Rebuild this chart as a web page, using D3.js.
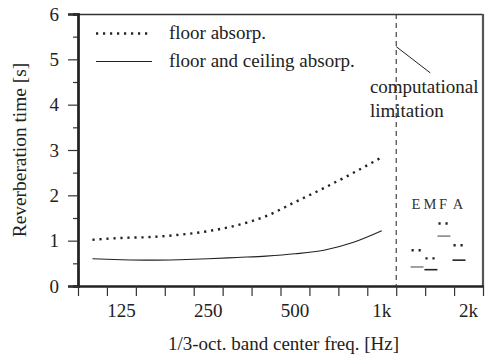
<!DOCTYPE html>
<html>
<head>
<meta charset="utf-8">
<script src="https://cdn.jsdelivr.net/npm/d3@7"></script>
<style>
  body { margin: 0; background: #fff; }
</style>
</head>
<body>
<svg id="chart" width="487" height="355"></svg>
<script>
// 1/3-octave bands, 100 Hz .. 2 kHz (index = band number)
const bands = ["100","125","160","200","250","315","400","500","630","800","1k","1.25k","1.6k","2k"];
const bandLabels = {1: "125", 4: "250", 7: "500", 10: "1k", 13: "2k"};

// reverberation time [s], bands 100 Hz .. 1 kHz
const floorAbs = [1.02, 1.06, 1.08, 1.13, 1.21, 1.34, 1.54, 1.85, 2.16, 2.49, 2.84];
const floorCeilAbs = [0.60, 0.58, 0.57, 0.58, 0.60, 0.63, 0.66, 0.71, 0.79, 0.96, 1.22];

// measured values E, M, F, A (position given in band units)
const measNames = ["E", "M", "F", "A"];
const measPos = [11.72, 12.2, 12.65, 13.17];
const measFloor = [0.79, 0.61, 1.38, 0.90];
const measFloorCeil = [0.42, 0.36, 1.10, 0.57];
const measGrey = [true, false, true, false];

const limitBand = 11; // computational limitation edge

const FONT = "Liberation Serif";
const svg = d3.select("#chart");
const m = {left: 78, right: 483, top: 14, bottom: 286};
const fs = 19;

const x = d3.scaleLinear().domain([0, bands.length]).range([m.left, m.right]);
const y = d3.scaleLinear().domain([0, 6]).range([m.bottom, m.top]);

const txt = (sel, size) => sel.attr("font-family", FONT).attr("font-size", size || fs).attr("fill", "#222");

// frame top/right
svg.append("line").attr("x1", m.left).attr("x2", m.right).attr("y1", m.top + 0.5).attr("y2", m.top + 0.5)
    .attr("stroke", "#333").attr("stroke-width", 1.7);
svg.append("line").attr("x1", m.right).attr("x2", m.right).attr("y1", m.top).attr("y2", m.bottom)
    .attr("stroke", "#555").attr("stroke-width", 2.2);

// y axis
const gy = svg.append("g").attr("transform", `translate(${m.left},0)`);
gy.call(d3.axisLeft(y).tickValues(d3.range(0.5, 6, 1)).tickSize(5).tickFormat(""));
gy.call(g => g.append("g").call(d3.axisLeft(y).tickValues(d3.range(0, 7)).tickSize(10).tickPadding(9).tickFormat(d3.format("d"))));
gy.selectAll("g").attr("font-family", FONT);
gy.selectAll("path.domain").attr("stroke", "#222").attr("stroke-width", 2.3);
gy.selectAll(".tick line").attr("stroke", "#333").attr("stroke-width", 1.2);
gy.selectAll("text").call(txt);

// x axis
const gx = svg.append("g").attr("transform", `translate(0,${m.bottom})`);
gx.call(d3.axisBottom(x).tickValues(d3.range(0, bands.length + 1)).tickSize(10).tickSizeOuter(0).tickFormat(""));
gx.select("path.domain").attr("stroke", "#222").attr("stroke-width", 2.7);
gx.selectAll(".tick line").attr("stroke", "#333").attr("stroke-width", 1.2);

svg.append("g").selectAll("text")
    .data(Object.entries(bandLabels)).enter()
    .append("text")
    .attr("x", d => x(+d[0] + 0.5))
    .attr("y", m.bottom + 31)
    .attr("text-anchor", "middle")
    .call(txt)
    .text(d => d[1]);

// axis titles
svg.append("text").attr("x", (m.left + m.right) / 2 + 3).attr("y", 350)
    .attr("text-anchor", "middle").call(txt)
    .text("1/3-oct. band center freq. [Hz]");
svg.append("text").attr("transform", `translate(26,${(m.top + m.bottom) / 2}) rotate(-90)`)
    .attr("text-anchor", "middle").call(txt, fs + 0.4)
    .text("Reverberation time [s]");

// computational limitation
svg.append("line").attr("x1", x(limitBand)).attr("x2", x(limitBand)).attr("y1", m.top).attr("y2", m.bottom)
    .attr("stroke", "#333").attr("stroke-width", 1.1).attr("stroke-dasharray", "5,4");
svg.append("line").attr("x1", x(limitBand)).attr("y1", y(5.28)).attr("x2", x(12.18)).attr("y2", y(4.70))
    .attr("stroke", "#222").attr("stroke-width", 1);
svg.append("text").attr("x", x(10.09)).attr("y", y(4.26)).call(txt).text("computational");
svg.append("text").attr("x", x(10.09)).attr("y", y(3.73)).call(txt).text("limitation");

// curves
const line = d3.line().x((d, i) => x(i + 0.5)).y(d => y(d)).curve(d3.curveMonotoneX);
svg.append("path").datum(floorAbs).attr("d", line)
    .attr("fill", "none").attr("stroke", "#222").attr("stroke-width", 2.4).attr("stroke-dasharray", "2.2,4.8");
svg.append("path").datum(floorCeilAbs).attr("d", line)
    .attr("fill", "none").attr("stroke", "#222").attr("stroke-width", 1.1);

// legend
const legend = [
    {label: "floor absorp.", dash: "2.2,4.8", w: 2.4},
    {label: "floor and ceiling absorp.", dash: null, w: 1.1}
];
const lg = svg.append("g").selectAll("g").data(legend).enter().append("g")
    .attr("transform", (d, i) => `translate(0,${33.5 + i * 28})`);
lg.append("line").attr("x1", 96).attr("x2", 152)
    .attr("stroke", "#222").attr("stroke-width", d => d.w).attr("stroke-dasharray", d => d.dash);
lg.append("text").attr("x", 169).attr("y", 5).call(txt).text(d => d.label);

// measured E M F A
const mg = svg.append("g").selectAll("g").data(measNames).enter().append("g");
mg.append("text")
    .attr("x", (d, i) => x(measPos[i]) - 1)
    .attr("y", 209)
    .attr("text-anchor", "middle")
    .call(txt, 14.5)
    .attr("fill", "#333")
    .text(d => d);
mg.append("line")
    .attr("x1", (d, i) => x(measPos[i]) - 5.5).attr("x2", (d, i) => x(measPos[i]) + 6)
    .attr("y1", (d, i) => y(measFloor[i])).attr("y2", (d, i) => y(measFloor[i]))
    .attr("stroke", "#222").attr("stroke-width", 2.4).attr("stroke-dasharray", "2.2,4.8");
mg.append("line")
    .attr("x1", (d, i) => x(measPos[i]) - 6.5).attr("x2", (d, i) => x(measPos[i]) + 6.5)
    .attr("y1", (d, i) => y(measFloorCeil[i])).attr("y2", (d, i) => y(measFloorCeil[i]))
    .attr("stroke", (d, i) => measGrey[i] ? "#888" : "#222").attr("stroke-width", 1.6);
</script>
</body>
</html>
